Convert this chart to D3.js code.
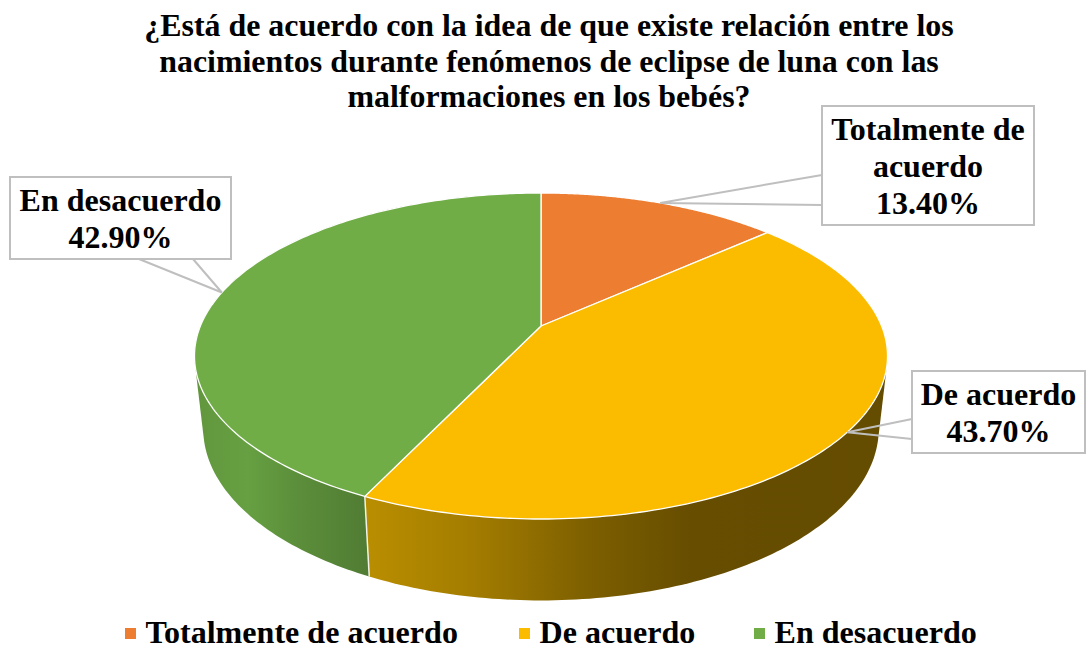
<!DOCTYPE html>
<html>
<head>
<meta charset="utf-8">
<script src="https://cdn.jsdelivr.net/npm/d3@7"></script>
<style>
  html, body { margin: 0; padding: 0; background: #fff; }
  text { font-family: "Liberation Serif", serif; font-weight: bold; fill: #000; }
</style>
</head>
<body>
<svg class="chart" width="1086" height="648"></svg>
<script>
var categories = ["Totalmente de acuerdo", "De acuerdo", "En desacuerdo"];
var values = [13.4, 43.7, 42.9];
var colors = ["#ed7d31", "#fbbc00", "#70ad47"];
var valueLabels = ["13.40%", "43.70%", "42.90%"];
var labelLines = [["Totalmente de", "acuerdo"], ["De acuerdo"], ["En desacuerdo"]];
var titleLines = [
  "¿Está de acuerdo con la idea de que existe relación entre los",
  "nacimientos durante fenómenos de eclipse de luna con las",
  "malformaciones en los bebés?"
];

// label boxes, [x0, y0, x1, y1] and where the leader leaves the box
var labelBoxes = [[822, 106, 1034, 225], [912, 371, 1085, 453], [10, 177, 231, 259]];
var leaderFeet = [[[822, 175], [822, 205]], [[912, 419], [912, 439]], [[139, 259], [193, 259]]];

var legendX = [125, 519, 754];

var chart = d3.select(".chart");
var defs = chart.append("defs");

// perspective view of the pie, top face and bottom rim
var persp = 0.184;
var topFace = {cx: 541, cy: 326, a: 340.6, b: 157.5};
var bottomRim = {cx: 541, cy: 397, a: 332, b: 166};

function project(face, angle) {
  var u = Math.sin(angle), v = -Math.cos(angle);
  var d = 1 - persp * v;
  return [face.cx + face.a * u / d, face.cy + face.b * v / d];
}

function rim(face, a0, a1) {
  var n = 160;
  return d3.range(n + 1).map(function(i) {
    return project(face, a0 + (a1 - a0) * i / n);
  });
}

var pie = d3.pie().sort(null).value(function(d) { return d; });
var slices = pie(values);
var line = d3.line();

// side wall gradients, they run across the screen
var yellowGrad = defs.append("linearGradient").attr("id", "wall1")
  .attr("gradientUnits", "userSpaceOnUse").attr("x1", 365).attr("x2", 890).attr("y1", 0).attr("y2", 0);
[[0, "#ba8e00"], [0.2, "#a47d00"], [0.42, "#7e6000"], [0.62, "#664d00"], [1, "#644c00"]].forEach(function(s) {
  yellowGrad.append("stop").attr("offset", s[0]).attr("stop-color", s[1]);
});
var greenGrad = defs.append("linearGradient").attr("id", "wall2")
  .attr("gradientUnits", "userSpaceOnUse").attr("x1", 195).attr("x2", 370).attr("y1", 0).attr("y2", 0);
[[0, "#62963e"], [0.3, "#66a042"], [0.6, "#5b8d3a"], [1, "#507c33"]].forEach(function(s) {
  greenGrad.append("stop").attr("offset", s[0]).attr("stop-color", s[1]);
});

// walls first, the top face covers whatever is behind it
// green before yellow: the green hull's closing chord must stay under the yellow wall
var walls = chart.append("g");
[2, 1].forEach(function(i) {
  var s = slices[i];
  // hull so the straight side of the cylinder is filled too
  var pts = rim(topFace, s.startAngle, s.endAngle).concat(rim(bottomRim, s.startAngle, s.endAngle));
  walls.append("path")
    .attr("d", line(d3.polygonHull(pts)) + "Z")
    .attr("fill", "url(#wall" + i + ")")
    .attr("stroke", "none");
});
// light edge where the two visible walls meet
var edgeAngle = slices[1].endAngle;
walls.append("path")
  .attr("d", line([project(topFace, edgeAngle), project(bottomRim, edgeAngle)]))
  .attr("stroke", "#f2f2ea").attr("stroke-width", 1.5).attr("fill", "none");

// top face
chart.append("g").selectAll("path")
  .data(slices)
  .enter().append("path")
  .attr("d", function(d) {
    return line([[topFace.cx, topFace.cy]].concat(rim(topFace, d.startAngle, d.endAngle))) + "Z";
  })
  .attr("fill", function(d, i) { return colors[i]; })
  .attr("stroke", "#fff")
  .attr("stroke-width", 1.3)
  .attr("stroke-linejoin", "round");

// title
chart.append("g").selectAll("text")
  .data(titleLines)
  .enter().append("text")
  .attr("x", 549)
  .attr("y", function(d, i) { return 36 + i * 35.5; })
  .attr("text-anchor", "middle")
  .style("font-size", "31.9px")
  .text(function(d) { return d; });

// data labels with their leaders
var labels = chart.append("g").selectAll("g")
  .data(slices)
  .enter().append("g");

labels.append("path")
  .attr("d", function(d, i) {
    var tip = project(topFace, (d.startAngle + d.endAngle) / 2);
    return line([leaderFeet[i][0], tip, leaderFeet[i][1]]);
  })
  .attr("fill", "none")
  .attr("stroke", "#bfbfbf")
  .attr("stroke-width", 2);

labels.append("rect")
  .attr("x", function(d, i) { return labelBoxes[i][0]; })
  .attr("y", function(d, i) { return labelBoxes[i][1]; })
  .attr("width", function(d, i) { return labelBoxes[i][2] - labelBoxes[i][0]; })
  .attr("height", function(d, i) { return labelBoxes[i][3] - labelBoxes[i][1]; })
  .attr("fill", "#fff")
  .attr("stroke", "#bfbfbf")
  .attr("stroke-width", 2);

labels.each(function(d, i) {
  var box = labelBoxes[i];
  var lines = labelLines[i].concat([valueLabels[i]]);
  var midX = (box[0] + box[2]) / 2;
  var firstY = (box[1] + box[3]) / 2 - (lines.length - 1) * 37.3 / 2 + 11.5;
  d3.select(this).selectAll("text")
    .data(lines)
    .enter().append("text")
    .attr("x", midX)
    .attr("y", function(t, j) { return firstY + j * 37.3; })
    .attr("text-anchor", "middle")
    .style("font-size", "32px")
    .text(function(t) { return t; });
});

// legend
var legend = chart.append("g").selectAll("g")
  .data(categories)
  .enter().append("g")
  .attr("transform", function(d, i) { return "translate(" + legendX[i] + ",628)"; });

legend.append("rect")
  .attr("width", 11)
  .attr("height", 11)
  .attr("fill", function(d, i) { return colors[i]; });

legend.append("text")
  .attr("x", 20.5)
  .attr("y", 15)
  .style("font-size", "32.1px")
  .text(function(d) { return d; });
</script>
</body>
</html>
